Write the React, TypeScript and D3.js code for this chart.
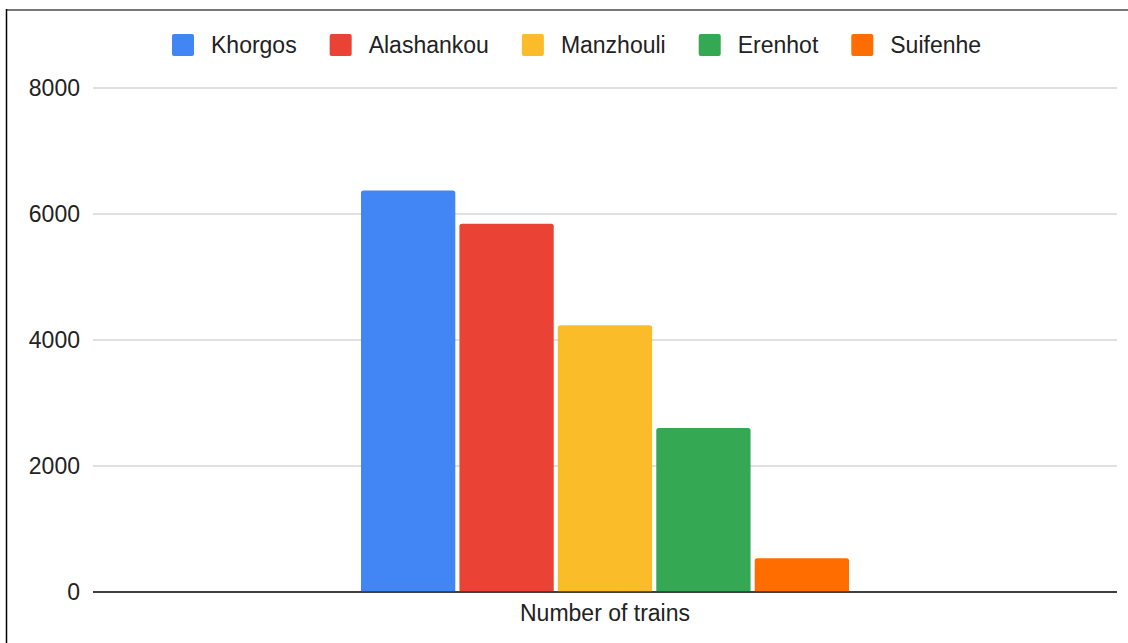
import { useEffect, useRef } from 'react';
import * as d3 from 'd3';

const categories = ['Khorgos', 'Alashankou', 'Manzhouli', 'Erenhot', 'Suifenhe'];
const trainValues = [6375, 5845, 4235, 2605, 535];
const colors = ['#4285F4', '#EA4335', '#FBBC2A', '#34A853', '#FF6D01'];
const yTicks = [0, 2000, 4000, 6000, 8000];
const xLabel = 'Number of trains';

const CHART = {
    width: 1128,
    height: 643,
    plotLeft: 93,
    plotRight: 1117,
    plotTop: 88,
    plotBottom: 592,
    barLeft: 361,
    barRight: 849,
    font: '"Liberation Sans", Arial, sans-serif'
};

export default function App() {
    const legendRef = useRef<SVGGElement>(null);

    const yScale = d3.scaleLinear().domain([0, 8000]).range([CHART.plotBottom, CHART.plotTop]);
    const xScale = d3.scaleBand<string>()
        .domain(categories)
        .range([CHART.barLeft, CHART.barRight])
        .paddingInner(0.042)
        .paddingOuter(0);

    // legend items laid out after measuring text
    useEffect(() => {
        const g = d3.select(legendRef.current);
        g.selectAll('*').remove();
        let x = 172;
        categories.forEach((c, i) => {
            g.append('rect')
                .attr('x', x).attr('y', 34)
                .attr('width', 22).attr('height', 22)
                .attr('rx', 2)
                .attr('fill', colors[i]);
            const t = g.append('text')
                .attr('x', x + 39).attr('y', 45)
                .attr('dominant-baseline', 'central')
                .attr('font-size', 23)
                .attr('fill', '#222')
                .text(c);
            const w = (t.node() as SVGTextElement).getComputedTextLength();
            x += 39 + w + 33;
        });
    }, []);

    return (
        <div style={{ position: 'fixed', left: 0, top: 0 }}>
            <svg width={CHART.width} height={CHART.height} fontFamily={CHART.font} style={{ display: 'block', background: '#fff' }}>
                {/* frame */}
                <line x1={6} x2={CHART.width} y1={10} y2={10} stroke="#777" strokeWidth={2} />
                <line x1={6.5} x2={6.5} y1={9} y2={CHART.height} stroke="#000" strokeWidth={1.5} />

                {/* gridlines + tick labels */}
                {yTicks.map((t) => (
                    <g key={t}>
                        <line x1={CHART.plotLeft} x2={CHART.plotRight} y1={yScale(t)} y2={yScale(t)}
                            stroke={t === 0 ? '#333' : '#d6d6d6'} strokeWidth={t === 0 ? 1.5 : 1.6} />
                        <text x={80} y={yScale(t)} textAnchor="end" dominantBaseline="central"
                            fontSize={23} fill="#222">{t}</text>
                    </g>
                ))}

                {/* bars */}
                {categories.map((c, i) => {
                    const y = yScale(trainValues[i]);
                    const h = CHART.plotBottom - y;
                    const w = xScale.bandwidth();
                    const x = xScale(c)!;
                    return (
                        <path key={c} fill={colors[i]}
                            d={`M${x},${y + h} V${y + 2.5} Q${x},${y} ${x + 2.5},${y} H${x + w - 2.5} Q${x + w},${y} ${x + w},${y + 2.5} V${y + h} Z`} />
                    );
                })}

                <line x1={CHART.plotLeft} x2={CHART.plotRight} y1={yScale(0)} y2={yScale(0)} stroke="#333" strokeWidth={1.5} />

                <text x={(CHART.plotLeft + CHART.plotRight) / 2} y={613} textAnchor="middle" dominantBaseline="central"
                    fontSize={23} fill="#222">{xLabel}</text>

                <g ref={legendRef} />
            </svg>
        </div>
    );
}
